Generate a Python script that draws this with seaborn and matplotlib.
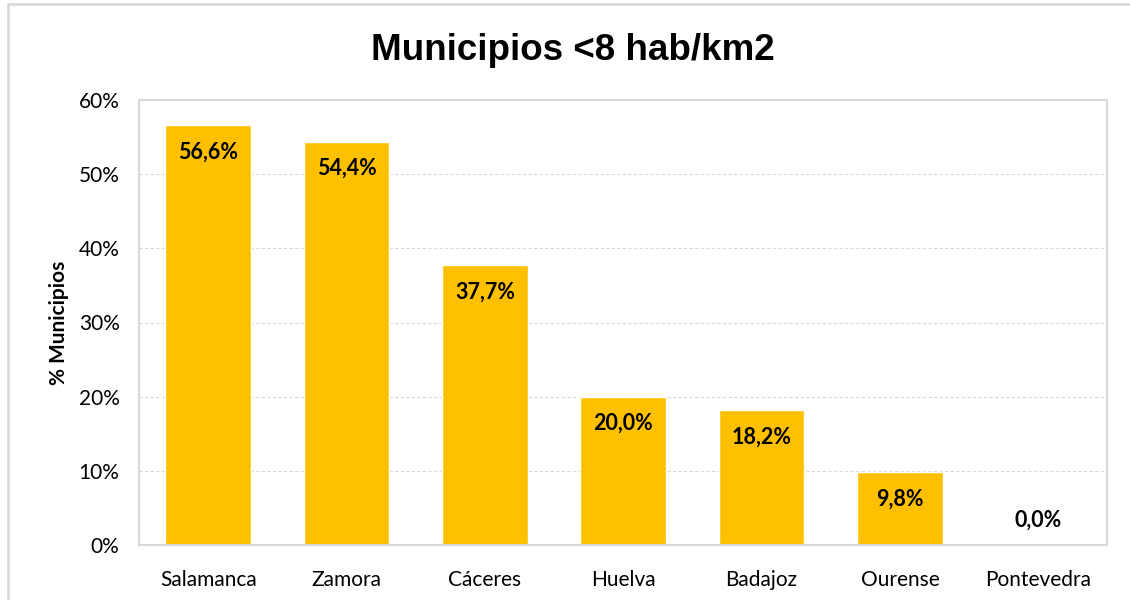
"""Bar chart: share of municipalities under 8 inhabitants/km2 by province."""

import matplotlib

matplotlib.use("Agg")

import matplotlib.pyplot as plt
import pandas as pd
import seaborn as sns
from matplotlib.patches import Rectangle
from matplotlib.ticker import FuncFormatter

provincias = ["Salamanca", "Zamora", "Cáceres", "Huelva", "Badajoz", "Ourense", "Pontevedra"]
porcentaje = [56.6, 54.4, 37.7, 20.0, 18.2, 9.8, 0.0]
y_ticks = [0, 10, 20, 30, 40, 50, 60]

sns.set_theme(style="white")
plt.rcParams["font.family"] = ["Lato", "DejaVu Sans"]
plt.rcParams["text.color"] = "black"
plt.rcParams["axes.labelcolor"] = "black"

data = pd.DataFrame({"provincia": provincias, "pct": porcentaje})

fig = plt.figure(figsize=(11.3, 6), dpi=100)
ax = fig.add_axes([0.123, 0.0917, 0.857, 0.7416])

sns.barplot(data=data, x="provincia", y="pct", color="#FFC000", saturation=1,
            width=0.62, ax=ax)

ax.set_xlim(-0.5, len(provincias) - 0.5)
ax.set_ylim(0, 60)
ax.set_yticks(y_ticks)
ax.yaxis.set_major_formatter(FuncFormatter(lambda v, _: f"{v:.0f}%"))
ax.grid(axis="y", color="#D9D9D9", linestyle=(0, (3, 2)), linewidth=0.8)
ax.set_axisbelow(True)
for spine in ax.spines.values():
    spine.set_color("#D9D9D9")
    spine.set_linewidth(1.5)
ax.tick_params(axis="both", labelsize=15, length=0, colors="black")
ax.tick_params(axis="y", pad=14)
ax.tick_params(axis="x", pad=18)
ax.set_xlabel("")
ax.set_ylabel("% Municipios", fontsize=15, fontweight="bold", labelpad=7)

for i, v in enumerate(porcentaje):
    label = f"{v:.1f}%".replace(".", ",")
    dy = -27 if v > 3 else 25
    ax.annotate(label, (i, v), xytext=(0, dy), textcoords="offset pixels",
                ha="center", va="center", fontsize=15.5, fontweight="bold")

fig.suptitle("Municipios <8 hab/km2", x=0.507, y=0.945, fontsize=26.5,
             fontweight="bold", color="black",
             family=["Liberation Sans", "DejaVu Sans"])

fig.patches.append(Rectangle((8 / 1130, -0.05), 1.2, (600 - 4) / 600 + 0.05,
                             transform=fig.transFigure, fill=False,
                             edgecolor="#D9D9D9", linewidth=2))

fig.savefig("out.png", dpi=100)
plt.close(fig)
